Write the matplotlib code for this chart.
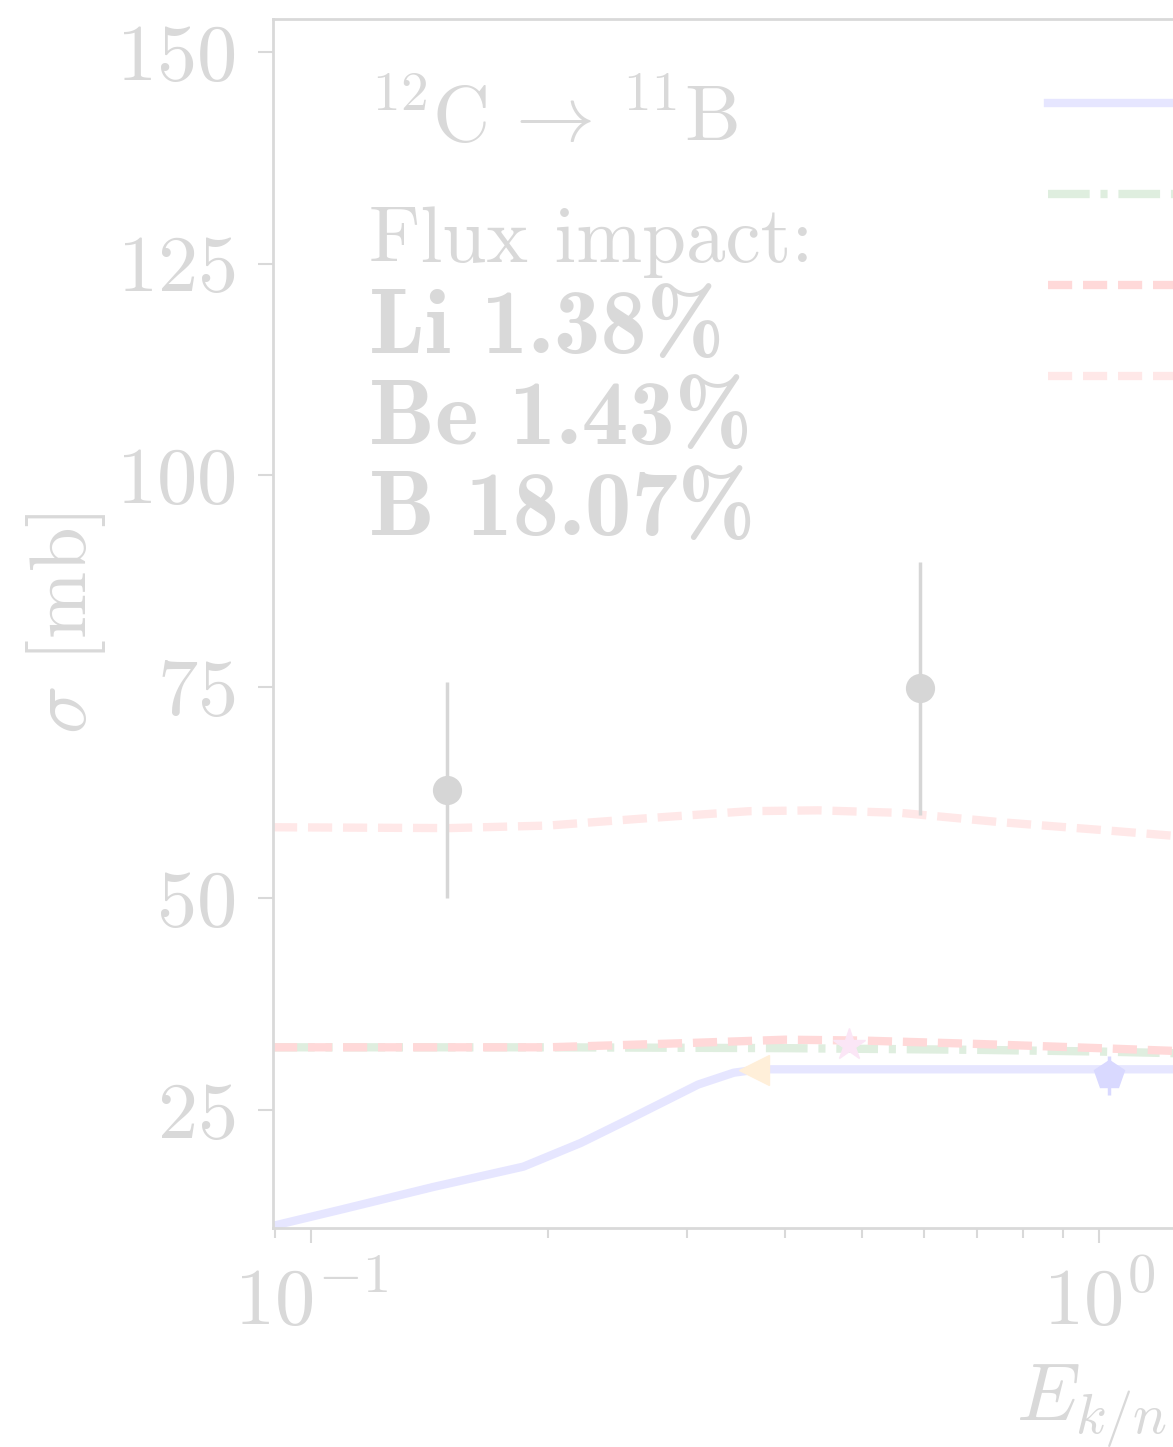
import os
import matplotlib
matplotlib.use("Agg")
import matplotlib.pyplot as plt
from matplotlib.font_manager import FontProperties
import numpy as np

plt.rcParams["font.family"] = "serif"
plt.rcParams["font.serif"] = ["cmr10", "DejaVu Serif"]
plt.rcParams["mathtext.fontset"] = "cm"
plt.rcParams["axes.formatter.use_mathtext"] = True

FS = 58
FADE = "#d9d9d9"
BOLD_CM = os.path.join(matplotlib.get_data_path(), "fonts", "ttf", "cmb10.ttf")

# ── model curves (E_k/n in GeV/n, sigma in mb) ──
e_galprop = [0.0895, 0.11, 0.143, 0.186, 0.22, 0.252, 0.31, 0.344, 0.37, 1.4]
s_galprop = [11.3, 13.3, 15.9, 18.3, 21.1, 23.8, 28.0, 29.4, 29.8, 29.8]

e_evoli = [0.0895, 0.2, 0.4, 0.7, 1.0, 1.4]
s_evoli = [32.4, 32.4, 32.3, 32.1, 31.9, 31.6]

e_fluka = [0.0895, 0.2, 0.3, 0.4, 0.5, 0.7, 1.0, 1.4]
s_fluka = [32.4, 32.4, 32.9, 33.3, 33.2, 32.8, 32.3, 31.8]

e_fluka_cum = [0.0895, 0.15, 0.2, 0.27, 0.36, 0.44, 0.56, 0.75, 1.0, 1.24, 1.4]
s_fluka_cum = [58.4, 58.3, 58.6, 59.5, 60.3, 60.4, 60.1, 59.0, 58.1, 57.4, 57.0]

model_labels = ["GALPROP", "Evoli et al. 2019", "FLUKA", "FLUKA cumulative"]

# ── measurements ──
exp_e = [0.149, 0.593]
exp_s = [62.8, 74.8]
exp_err = [12.8, 14.9]

pent_e = [1.03]
pent_s = [29.1]
pent_err = [2.3]

tri_e = [0.365]
tri_s = [29.7]

star_e = [0.482]
star_s = [32.7]

impact_lines = ["Li 1.38%", "Be 1.43%", "B 18.07%"]

fig = plt.figure(figsize=(11.73, 14.47), dpi=100)
ax = fig.add_axes([273 / 1173, 1 - 1228 / 1447, 1950 / 1173, 1209 / 1447])

ax.plot(e_galprop, s_galprop, color="#e6e6ff", lw=6, label=model_labels[0])
ax.plot(e_evoli, s_evoli, color="#dfeedf", lw=6, dashes=(5, 1.3, 0.85, 1.3), label=model_labels[1])
ax.plot(e_fluka, s_fluka, color="#ffd9d9", lw=6, dashes=(2.9, 1.3), label=model_labels[2])
ax.plot(e_fluka_cum, s_fluka_cum, color="#ffe8e8", lw=6, dashes=(2.9, 1.3), label=model_labels[3])

ax.errorbar(exp_e, exp_s, yerr=exp_err, fmt="o", ms=20, color="#d6d6d6",
            elinewidth=2.5, capsize=0, zorder=5)
ax.errorbar(pent_e, pent_s, yerr=pent_err, fmt="p", ms=22, color="#d9d9ff",
            elinewidth=2.5, capsize=0, zorder=5)
ax.plot(tri_e, tri_s, "<", ms=22, color="#ffefd9", zorder=5)
ax.plot(star_e, star_s, "*", ms=24, color="#fbe6f6", zorder=5)

ax.set_xscale("log")
ax.set_xlim(0.0895, 26.7)
ax.set_ylim(11.05, 153.9)
ax.set_yticks([25, 50, 75, 100, 125, 150])

for sp in ax.spines.values():
    sp.set_color(FADE)
    sp.set_linewidth(2)
ax.tick_params(which="both", colors=FADE, labelcolor=FADE, labelsize=FS, width=1.5)
ax.tick_params(which="major", length=11, pad=16)
ax.tick_params(which="minor", length=7)
ax.tick_params(axis="y", which="minor", left=False)

ax.set_xlabel(r"$E_{k/n}$ [GeV/n]", fontsize=FS, color=FADE, labelpad=12)
ax.set_ylabel(r"$\sigma$ [mb]", fontsize=FS, color=FADE, labelpad=6)

tx = (369 - 273) / 1950
ax.text(tx, 0.898, r"$^{12}\mathrm{C}\,\rightarrow\,{}^{11}\mathrm{B}$", transform=ax.transAxes,
        fontsize=57, color=FADE, va="baseline")
ax.text(tx, 0.799, "Flux impact:", transform=ax.transAxes, fontsize=57, color=FADE, va="baseline")
bold = FontProperties(fname=BOLD_CM, size=67)
for i, line in enumerate(impact_lines):
    ax.text(tx, 0.724 - i * 0.0755, line, transform=ax.transAxes,
            fontproperties=bold, color=FADE, va="baseline")

ax.legend(loc="upper left", bbox_to_anchor=((1048 - 273) / 1950, 1 - 56 / 1209),
          frameon=False, fontsize=FS, borderpad=0, borderaxespad=0,
          labelspacing=0.23, handlelength=2.5, labelcolor=FADE)

fig.savefig("out.png", dpi=100)
